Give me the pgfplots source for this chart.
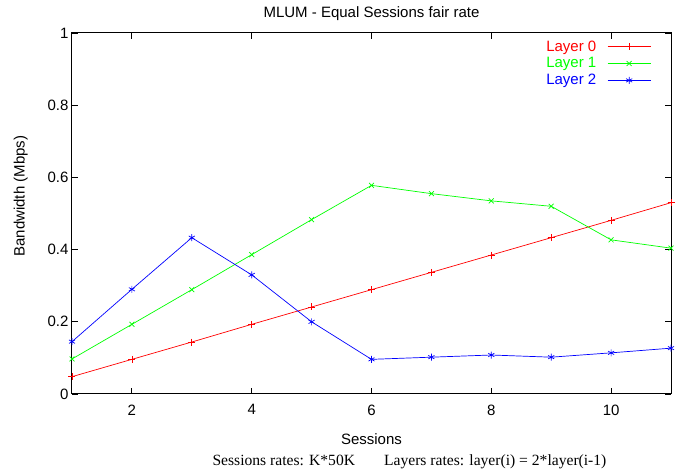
\documentclass[border=0pt]{standalone}
\usepackage{pgfplots}
\pgfplotsset{compat=1.18}
\usepackage{fontspec}
\setmainfont{Liberation Sans}
\newfontfamily\timesfont{Liberation Serif}
\newcommand\ff{\fontsize{15}{17}\selectfont}
\begin{document}
\begin{tikzpicture}
\path[use as bounding box] (-72pt,-77pt) rectangle (614pt,394pt);
\begin{axis}[
  scale only axis,
  width=599pt, height=361pt,
  at={(0,0)}, anchor=south west,
  xmin=1, xmax=11, ymin=0, ymax=1,
  xtick={2,4,6,8,10},
  ytick={0,0.2,0.4,0.6,0.8,1},
  yticklabels={0,0.2,0.4,0.6,0.8,1},
  tick align=inside,
  major tick length=6pt,
  tick style={black, line width=0.8pt},
  axis line style={line width=1pt},
  /pgf/number format/assume math mode=true,
  tick label style={font=\ff},
  xticklabel style={yshift=-7pt},
  label style={font=\ff},
  title style={font=\ff, at={(0.5,1)}, anchor=base, yshift=9pt},
  title={MLUM - Equal Sessions fair rate},
  xlabel={Sessions},
  ylabel={Bandwidth (Mbps)},
  xlabel style={yshift=-12pt},
  ylabel style={at={(ticklabel cs:0.548)}, yshift=13pt},
  clip=false,
  legend style={at={(rel axis cs:0.967,0.985)}, anchor=north east, draw=none, fill=none,
    font=\ff, row sep=1pt, inner sep=0pt},
  legend cell align=right,
  legend plot pos=right,
  legend image code/.code={\path (0pt,0pt) (52pt,0pt); \draw[#1] (9pt,0pt) -- (52pt,0pt); \path[#1] plot coordinates {(30.5pt,0pt)};},
]
\addplot[color=red, line width=0.7pt, mark=+, mark size=3.5pt, mark options={line width=0.7pt}] coordinates {
(1,0.048) (2,0.096) (3,0.144) (4,0.193) (5,0.241) (6,0.289) (7,0.337) (8,0.385) (9,0.433) (10,0.481) (11,0.530)};
\addlegendentry{\textcolor{red}{Layer 0}}
\addplot[color=green, line width=0.7pt, mark=x, mark size=3.5pt, mark options={line width=0.7pt}] coordinates {
(1,0.097) (2,0.193) (3,0.289) (4,0.386) (5,0.483) (6,0.578) (7,0.555) (8,0.535) (9,0.520) (10,0.427) (11,0.404)};
\addlegendentry{\textcolor{green}{Layer 1}}
\addplot[color=blue, line width=0.7pt, mark=asterisk, mark size=3.5pt, mark options={line width=0.7pt}] coordinates {
(1,0.145) (2,0.290) (3,0.433) (4,0.330) (5,0.200) (6,0.096) (7,0.102) (8,0.108) (9,0.102) (10,0.114) (11,0.127)};
\addlegendentry{\textcolor{blue}{Layer 2}}
\node[font=\timesfont\fontsize{15.6}{17}\selectfont, anchor=center] at (rel axis cs:0.5634,-0.189)
  {Sessions rates: K*50K\hspace{29pt}Layers rates: layer(i) = 2*layer(i-1)};
\end{axis}
\end{tikzpicture}
\end{document}
